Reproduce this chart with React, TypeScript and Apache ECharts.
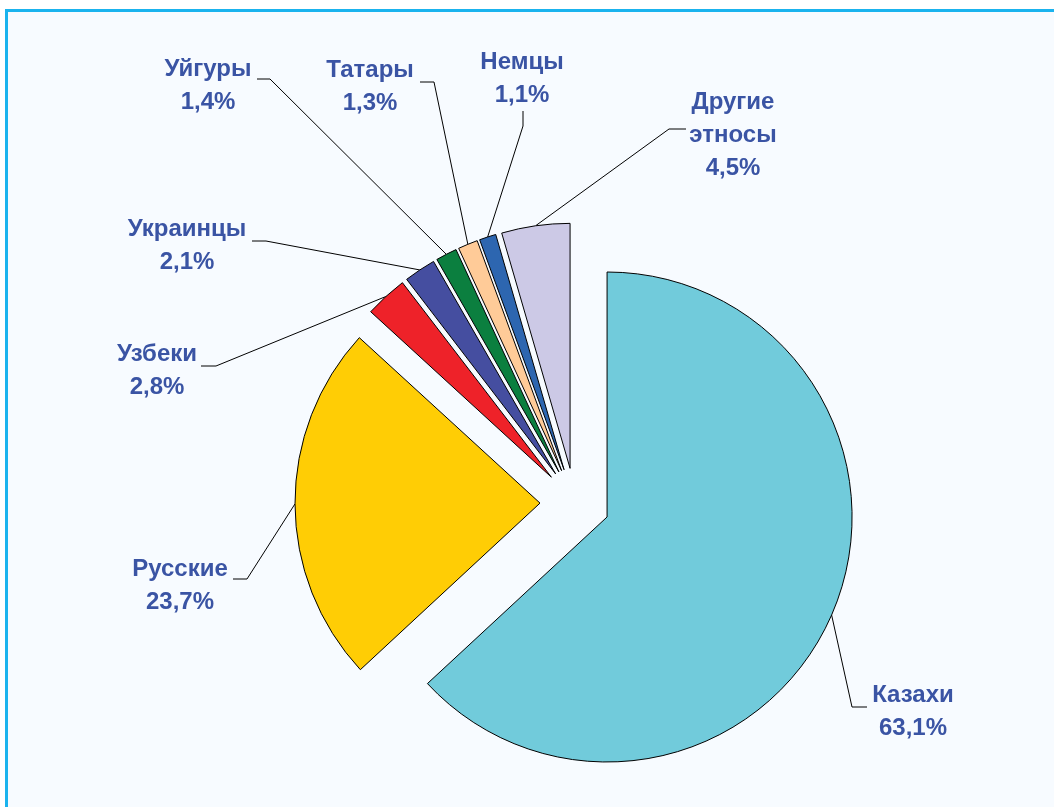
import React, { useEffect, useRef } from 'react';
import * as echarts from 'echarts';

const categories = ['Казахи', 'Русские', 'Узбеки', 'Украинцы', 'Уйгуры', 'Татары', 'Немцы', 'Другие этносы'];
const shares = [63.1, 23.7, 2.8, 2.1, 1.4, 1.3, 1.1, 4.5];
const sliceColors = ['#71CBDB', '#FFCD05', '#EE2229', '#454EA0', '#0B7F3F', '#FFCB98', '#2D66B0', '#CCC9E6'];

// label layout: text block centre, line elbow, line end at the text
const labelCenters = [[913, 710], [180, 584], [157, 369], [187, 244], [208, 84], [370, 85], [522, 77], [733, 133]];
const lineElbows = [[852, 707], [247, 579], [216, 366], [266, 241], [270, 79], [434, 82], [523, 126], [669, 129]];
const lineEnds = [[867, 707], [233, 579], [201, 366], [252, 241], [257, 79], [420, 82], [523, 111], [686, 129]];

const CENTER = [575, 503];
const RADIUS = 245;
const EXPLODE = 35;

export default function App() {
  const ref = useRef<HTMLDivElement>(null);
  useEffect(() => {
    if (!ref.current) return;
    const chart = echarts.init(ref.current, undefined, { renderer: 'svg' });
    const total = shares.reduce((a, b) => a + b, 0);
    let cum = 0;
    const series = categories.map((_, k) => {
      const mid = (90 - ((cum + shares[k] / 2) / total) * 360) * Math.PI / 180;
      cum += shares[k];
      return {
        type: 'pie',
        center: [CENTER[0] + EXPLODE * Math.cos(mid), CENTER[1] - EXPLODE * Math.sin(mid)],
        radius: RADIUS,
        startAngle: 90,
        clockwise: true,
        silent: true,
        avoidLabelOverlap: false,
        emphasis: { disabled: true },
        label: {
          show: true,
          formatter: (p: any) => p.name.replace(' ', '\n') + '\n' + p.value.toFixed(1).replace('.', ',') + '%',
          fontFamily: 'Arial, "Liberation Sans", sans-serif',
          fontWeight: 'bold',
          fontSize: 24,
          lineHeight: 33,
          color: '#3A54A4',
          align: 'center',
        },
        labelLine: { show: true, lineStyle: { color: '#000000', width: 1 } },
        labelLayout: (params: any) => {
          if (params.dataIndex !== k) return {};
          const p0 = params.labelLinePoints ? params.labelLinePoints[0] : lineElbows[k];
          return {
            x: labelCenters[k][0],
            y: labelCenters[k][1],
            align: 'center',
            verticalAlign: 'middle',
            labelLinePoints: [p0, lineElbows[k], lineEnds[k]],
          };
        },
        data: categories.map((name, i) => ({
          name,
          value: shares[i],
          itemStyle: i === k
            ? { color: sliceColors[i], borderColor: '#000000', borderWidth: 1 }
            : { color: 'rgba(0,0,0,0)', borderWidth: 0 },
          label: { show: i === k },
          labelLine: { show: i === k },
        })),
      };
    });
    chart.setOption({
      animation: false,
      graphic: [
        { type: 'rect', z: -10, silent: true, shape: { x: 0, y: 0, width: 1054, height: 807 }, style: { fill: '#FFFFFF' } },
        { type: 'rect', z: -9, silent: true, shape: { x: 6.5, y: 10.5, width: 1100, height: 900 }, style: { fill: '#F7FBFF', stroke: '#1AB3EE', lineWidth: 3 } },
      ],
      series,
    });
    return () => chart.dispose();
  }, []);
  return <div ref={ref} style={{ position: 'fixed', left: 0, top: 0, width: 1054, height: 807 }} />;
}
